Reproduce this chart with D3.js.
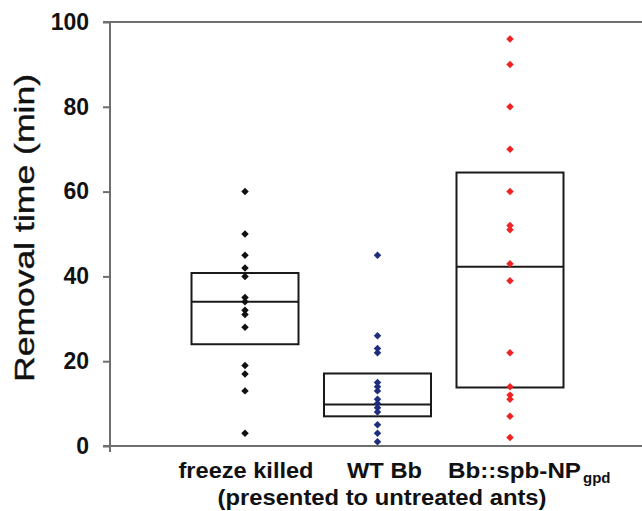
<!DOCTYPE html>
<html>
<head>
<meta charset="utf-8">
<script src="https://cdn.jsdelivr.net/npm/d3@7"></script>
<style>
  body { margin: 0; background: #fff; }
  text { font-family: Arial, "Liberation Sans", sans-serif; fill: #111; }
</style>
</head>
<body>
<div id="chart"></div>
<script>
// Categories and values
var categories = ["freeze", "wt", "spb"];
var pointColors = ["#111111", "#1f2d7d", "#f02222"];

var freezeValues = [60, 50, 45, 42, 40, 35, 34, 32, 31, 28, 19, 17, 13, 3];
var wtValues = [45, 26, 23, 22, 15, 14, 13, 11, 10, 9, 8, 5, 3, 1];
var spbValues = [96, 90, 80, 70, 60, 52, 51, 43, 39, 22, 14, 12, 11, 7, 2];

// box: lower edge, median, upper edge
var boxLow = [24, 7, 13.8];
var boxMid = [34, 9.8, 42.3];
var boxHigh = [40.8, 17.1, 64.5];

var yTicks = [0, 20, 40, 60, 80, 100];

var margin = {top: 22, right: 0, bottom: 65, left: 110};
var width = 642 - margin.left - margin.right;
var height = 511 - margin.top - margin.bottom; // 424

var svg = d3.select("#chart").append("svg")
    .attr("width", 642)
    .attr("height", 511);

var g = svg.append("g")
    .attr("transform", "translate(" + margin.left + "," + margin.top + ")");

var x = d3.scalePoint()
    .domain(categories)
    .range([135, 400]);

var y = d3.scaleLinear()
    .domain([0, 100])
    .range([height, 0]);

var axisColor = "#6e6e6e";

// frame: top line and x axis line
g.append("line")
    .attr("x1", -7).attr("x2", width)
    .attr("y1", y(100)).attr("y2", y(100))
    .attr("stroke", axisColor).attr("stroke-width", 2);
g.append("line")
    .attr("x1", -7).attr("x2", width)
    .attr("y1", y(0)).attr("y2", y(0))
    .attr("stroke", axisColor).attr("stroke-width", 2);

// y axis
var yAxis = d3.axisLeft(y)
    .tickValues(yTicks)
    .tickSize(7)
    .tickPadding(14);

var yAxisGroup = g.append("g")
    .attr("class", "y-axis")
    .call(yAxis);

yAxisGroup.select(".domain").remove();
yAxisGroup.selectAll(".tick line")
    .attr("stroke", axisColor)
    .attr("stroke-width", 2);
yAxisGroup.selectAll(".tick text")
    .style("font-family", "Arial, 'Liberation Sans', sans-serif")
    .style("font-size", "23px")
    .style("font-weight", "bold")
    .attr("fill", "#111");

g.append("line")
    .attr("x1", 0).attr("x2", 0)
    .attr("y1", y(100) - 1).attr("y2", y(0) + 6)
    .attr("stroke", axisColor).attr("stroke-width", 2);

// y axis title
svg.append("text")
    .attr("transform", "translate(34," + (margin.top + height / 2 - 6) + ") rotate(-90)")
    .attr("text-anchor", "middle")
    .attr("textLength", 308)
    .attr("lengthAdjust", "spacingAndGlyphs")
    .style("font-size", "27px")
    .style("stroke", "#111")
    .style("stroke-width", 0.4)
    .text("Removal time (min)");

// boxes
var boxWidth = 107;
var boxes = g.selectAll(".box")
    .data(categories)
    .enter().append("g")
    .attr("class", "box");

boxes.append("rect")
    .attr("x", function(d) { return x(d) - boxWidth / 2; })
    .attr("y", function(d, i) { return y(boxHigh[i]); })
    .attr("width", boxWidth)
    .attr("height", function(d, i) { return y(boxLow[i]) - y(boxHigh[i]); })
    .attr("fill", "none")
    .attr("stroke", "#1a1a1a")
    .attr("stroke-width", 2);

boxes.append("line")
    .attr("x1", function(d) { return x(d) - boxWidth / 2; })
    .attr("x2", function(d) { return x(d) + boxWidth / 2; })
    .attr("y1", function(d, i) { return y(boxMid[i]); })
    .attr("y2", function(d, i) { return y(boxMid[i]); })
    .attr("stroke", "#1a1a1a")
    .attr("stroke-width", 2);

// points
var allValues = [freezeValues, wtValues, spbValues];
var diamond = d3.symbol().type(d3.symbolSquare).size(28);

allValues.forEach(function(values, i) {
    g.selectAll(".pt-" + i)
        .data(values)
        .enter().append("path")
        .attr("class", "pt-" + i)
        .attr("d", diamond)
        .attr("transform", function(d) {
            return "translate(" + x(categories[i]) + "," + y(d) + ") rotate(45)";
        })
        .attr("fill", pointColors[i]);
});

// category labels
var labelY = margin.top + height + 32;
var labelFont = "22px";

svg.append("text")
    .attr("x", margin.left + x("freeze") + 1)
    .attr("y", labelY)
    .attr("text-anchor", "middle")
    .attr("textLength", 135)
    .attr("lengthAdjust", "spacingAndGlyphs")
    .style("font-size", labelFont)
    .style("font-weight", "bold")
    .text("freeze killed");

svg.append("text")
    .attr("x", margin.left + x("wt") + 7)
    .attr("y", labelY)
    .attr("text-anchor", "middle")
    .attr("textLength", 75)
    .attr("lengthAdjust", "spacingAndGlyphs")
    .style("font-size", labelFont)
    .style("font-weight", "bold")
    .text("WT Bb");

var spbLabel = svg.append("text")
    .attr("x", margin.left + x("spb") - 62)
    .attr("y", labelY)
    .style("font-size", labelFont)
    .style("font-weight", "bold");
spbLabel.append("tspan")
    .attr("textLength", 133)
    .attr("lengthAdjust", "spacingAndGlyphs")
    .text("Bb::spb-NP");
spbLabel.append("tspan")
    .attr("dx", 2)
    .attr("dy", 5)
    .style("font-size", "15px")
    .text("gpd");

svg.append("text")
    .attr("x", 382)
    .attr("y", labelY + 27)
    .attr("text-anchor", "middle")
    .attr("textLength", 329)
    .attr("lengthAdjust", "spacingAndGlyphs")
    .style("font-size", labelFont)
    .style("font-weight", "bold")
    .text("(presented to untreated ants)");
</script>
</body>
</html>
